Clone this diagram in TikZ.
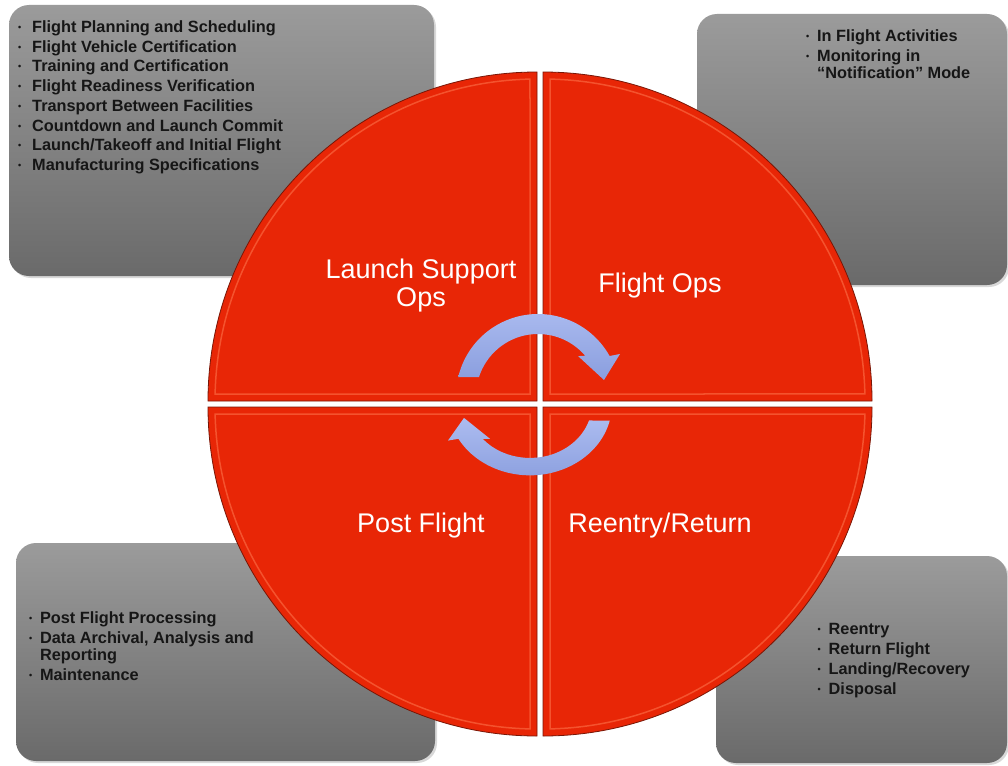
\documentclass[tikz,border=0pt]{standalone}
\usepackage{fontspec}
\setmainfont{Liberation Sans}
\usetikzlibrary{shadows}
\definecolor{boxtop}{RGB}{155,155,155}
\definecolor{boxbottom}{RGB}{106,106,106}
\definecolor{boxtext}{RGB}{22,22,22}
\definecolor{quarterred}{RGB}{232,38,6}
\definecolor{quarteredge}{RGB}{120,22,6}
\definecolor{quarterlight}{RGB}{255,120,80}
\definecolor{arrowtop}{RGB}{172,188,240}
\definecolor{arrowbottom}{RGB}{138,158,222}
\newcommand\bull[1][11pt]{\makebox[#1][l]{\raisebox{2pt}{\fontsize{9}{9}\selectfont\textbullet}}}
\newcommand\cont[1][11pt]{\makebox[#1][l]{}}
\tikzset{
  infobox/.style  = {shape=rectangle, rounded corners=20pt, inner sep=0pt,
                     top color=boxtop, bottom color=boxbottom,
                     drop shadow={opacity=0.3, shadow xshift=2pt, shadow yshift=-2pt}},
  infotext/.style = {anchor=north west, inner sep=0pt, align=left, text=boxtext,
                     font=\fontsize{16.3}{17}\selectfont\bfseries},
  phase/.style    = {text=white, align=center, inner sep=0pt,
                     font=\fontsize{27}{28}\selectfont},
  quarter/.pic    = {
    \fill[quarterred, draw=quarteredge, line width=0.8pt]
      (-3,-3) -- ++(180:329) arc[start angle=180, end angle=270, radius=329] -- cycle;
    \draw[quarterlight, line width=1.5pt, opacity=0.55]
      (-10,-10) -- (-324.9,-10) arc[start angle=181.25, end angle=268.75, radius=322] -- cycle;
  },
  cyclearrow/.pic = {
    \shade[top color=arrowtop, bottom color=arrowbottom]
      (-166.6:82) arc[start angle=-166.6, end angle=-29.2, radius=82]
      -- (82,-42) -- (66,-16) -- (40,-40) -- (-40.2:62)
      arc[start angle=-40.2, end angle=-162.2, radius=62] -- cycle;
  }
}
\begin{document}
\begin{tikzpicture}[x=1pt, y=-1pt]
  \useasboundingbox (0,0) rectangle (1008,765);
  \fill[white] (0,0) rectangle (1008,765);

  \node[infobox, minimum width=425pt, minimum height=271pt] (launchbox)  at (221.5,140.5) {};
  \node[infobox, minimum width=310pt, minimum height=271pt] (flightbox)  at (852,149.5) {};
  \node[infobox, minimum width=419pt, minimum height=218pt] (postbox)    at (225.5,652) {};
  \node[infobox, minimum width=291pt, minimum height=207pt] (reentrybox) at (861.5,659.5) {};

  \node[infotext] (launchlist) at (18,20.5) {\bull[14pt]Flight Planning and Scheduling\\[2.7pt]
    \bull[14pt]Flight Vehicle Certification\\[2.7pt]
    \bull[14pt]Training and Certification\\[2.7pt]
    \bull[14pt]Flight Readiness Verification\\[2.7pt]
    \bull[14pt]Transport Between Facilities\\[2.7pt]
    \bull[14pt]Countdown and Launch Commit\\[2.7pt]
    \bull[14pt]Launch/Takeoff and Initial Flight\\[2.7pt]
    \bull[14pt]Manufacturing Specifications};
  \node[infotext] (flightlist) at (806,29) {\bull In Flight Activities\\[3pt]
    \bull Monitoring in\\
    \cont ``Notification'' Mode};
  \node[infotext] (postlist) at (28.8,611.5) {\bull Post Flight Processing\\[3pt]
    \bull Data Archival, Analysis and\\
    \cont Reporting\\[3pt]
    \bull Maintenance};
  \node[infotext] (reentrylist) at (817.5,623) {\bull Reentry\\[3pt]
    \bull Return Flight\\[3pt]
    \bull Landing/Recovery\\[3pt]
    \bull Disposal};

  \pic (launchq)            at (540,404) {quarter};
  \pic[rotate=90] (postq)   at (540,404) {quarter};
  \pic[rotate=180] (reentryq) at (540,404) {quarter};
  \pic[rotate=270] (flightq)  at (540,404) {quarter};

  \node[phase] (launchlbl)  at (421,285.9) {Launch Support\\Ops};
  \node[phase] (flightlbl)  at (660,285.9) {Flight Ops};
  \node[phase] (postlbl)    at (421,525.9) {Post Flight};
  \node[phase] (reentrylbl) at (660,525.9) {Reentry/Return};

  \pic (toparrow) at (538,396) {cyclearrow};
  \pic[rotate=180, yscale=0.87] (bottomarrow) at (530,404) {cyclearrow};
\end{tikzpicture}
\end{document}
